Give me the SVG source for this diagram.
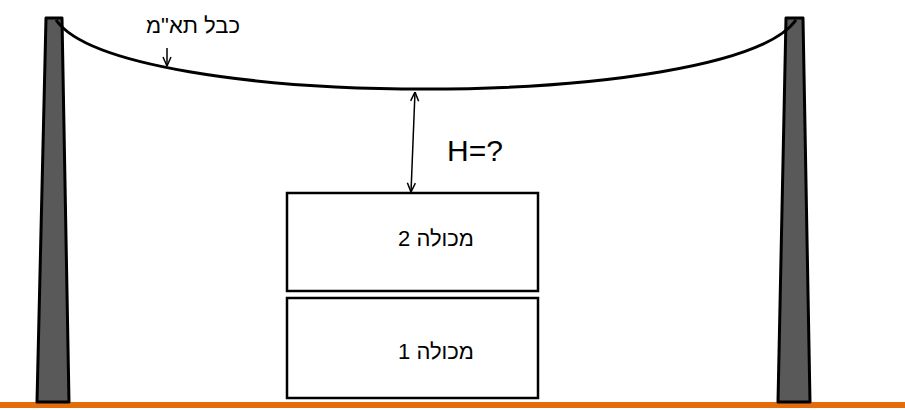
<svg xmlns="http://www.w3.org/2000/svg" width="905" height="410" viewBox="0 0 905 410">
<defs>
<style>
.pole{fill:#595959;stroke:#000;stroke-width:3;stroke-linejoin:round}
.box{fill:#fff;stroke:#000;stroke-width:2.5}
.lbl{font-family:"Liberation Sans","DejaVu Sans",Arial,sans-serif;fill:#000}
.arr{stroke:#000;stroke-width:1.5;fill:none}
</style>
<marker id="ah" viewBox="0 0 10 10" refX="10" refY="5" markerWidth="10" markerHeight="10" markerUnits="userSpaceOnUse" orient="auto-start-reverse">
<path d="M1,1 L10,5 L1,9" fill="none" stroke="#000" stroke-width="1.5"/>
</marker>
</defs>
<rect width="905" height="410" fill="#fff"/>
<rect id="ground" x="0" y="402" width="905" height="6" fill="#E46C0A"/>
<g id="pole-left"><polygon class="pole" points="46,18 62,18 69,402 37,402"/></g>
<g id="pole-right"><polygon class="pole" points="786,18 803,18 810,402 778,402"/></g>
<g id="cable">
<path d="M56,20 C120,112 730,112 796,20" fill="none" stroke="#000" stroke-width="3"/>
<text class="lbl" x="193" y="33" font-size="22" text-anchor="middle" direction="rtl">כבל תא"מ</text>
</g>
<g id="container-2">
<rect class="box" x="287" y="193" width="251" height="98"/>
<text class="lbl" x="436" y="246" font-size="22" text-anchor="middle" direction="rtl">מכולה 2</text>
</g>
<g id="container-1">
<rect class="box" x="287" y="298" width="251" height="100"/>
<text class="lbl" x="436" y="359" font-size="22" text-anchor="middle" direction="rtl">מכולה 1</text>
</g>
<g id="connectors">
<line class="arr" x1="415" y1="92" x2="411" y2="192" marker-start="url(#ah)" marker-end="url(#ah)"/>
<line class="arr" x1="167" y1="48" x2="167" y2="66" marker-end="url(#ah)"/>
</g>
<text class="lbl" x="447" y="161" font-size="30">H=?</text>
</svg>
